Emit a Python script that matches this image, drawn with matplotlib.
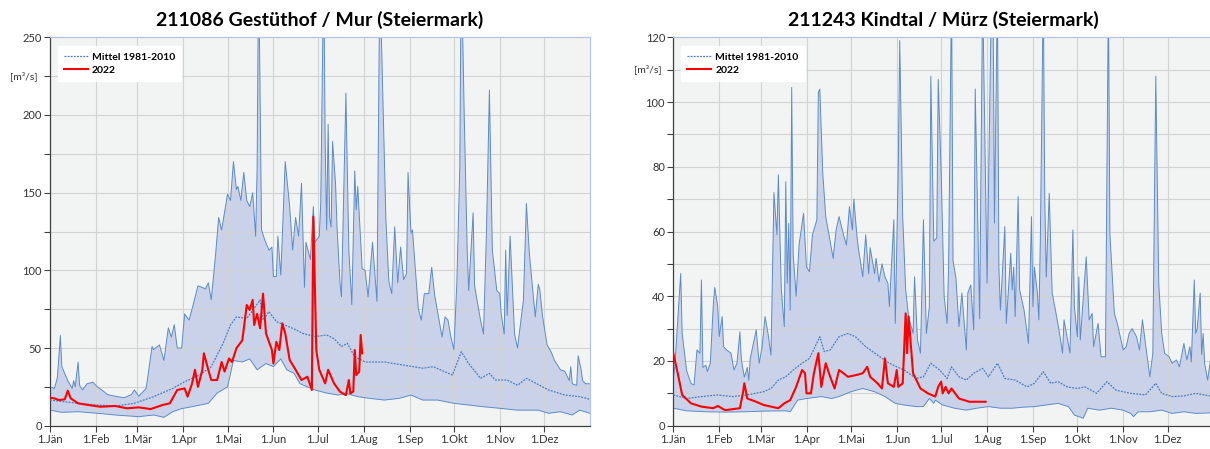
import matplotlib
matplotlib.use('Agg')
import matplotlib.pyplot as plt
from matplotlib.ticker import MultipleLocator

plt.rcParams['font.family'] = ['Lato', 'DejaVu Sans']

month_days = [0, 31, 59, 90, 120, 151, 181, 212, 243, 273, 304, 334]
month_labels = ['1.Jän', '1.Feb', '1.Mär', '1.Apr', '1.Mai', '1.Jun',
                '1.Jul', '1.Aug', '1.Sep', '1.Okt', '1.Nov', '1.Dez']

# --- 211086 Gestüthof / Mur ---
mur_max_d = [0, 3, 5, 7, 8, 12, 15, 16, 17, 19, 20, 22, 25, 29, 32, 35, 39, 44, 50, 55, 57, 60, 65, 69, 70, 74,
             77, 80, 82, 84, 86, 89, 91, 94, 96, 100, 103, 105, 107, 109, 112, 114, 116, 120, 122, 124, 126, 127,
             129, 131, 133, 135, 137, 139, 140, 141, 143, 145, 148, 150, 151, 153, 154, 156, 159, 162, 164, 166,
             168, 170, 172, 173, 176, 178, 179, 182, 183, 185, 186, 187, 188, 189, 190, 191, 193, 194, 196, 197,
             200, 202, 204, 206, 207, 208, 211, 213, 215, 218, 221, 223, 224, 227, 229, 231, 233, 235, 237, 239,
             241, 242, 244, 245, 247, 249, 251, 253, 256, 258, 260, 263, 265, 267, 269, 271, 273, 275, 277, 278,
             280, 282, 283, 286, 287, 291, 293, 295, 297, 299, 302, 304, 305, 307, 308, 309, 311, 314, 316, 320,
             322, 324, 328, 330, 331, 333, 336, 339, 341, 345, 348, 351, 352, 353, 356, 357, 359, 360, 362, 365]
mur_max_q = [25, 24, 31, 58, 38, 29, 24, 29, 25, 41, 26, 23, 27, 28, 25, 23, 20, 19, 18, 20, 23, 19, 24, 51, 49, 52,
             42, 63, 57, 65, 50, 50, 72, 68, 75, 90, 89, 88, 92, 81, 111, 134, 126, 149, 145, 170, 152, 154,
             145, 163, 145, 141, 150, 122, 166, 300, 126, 120, 113, 115, 96, 96, 122, 97, 170, 141, 113, 134,
             122, 156, 89, 118, 107, 141, 118, 122, 143, 300, 182, 126, 194, 134, 128, 183, 156, 128, 92, 83,
             214, 113, 78, 164, 139, 154, 101, 100, 83, 118, 80, 300, 250, 134, 93, 85, 128, 92, 115, 94,
             98, 163, 124, 126, 100, 75, 68, 85, 85, 102, 84, 68, 57, 70, 68, 57, 49, 92, 167, 300,
             199, 113, 87, 137, 90, 68, 59, 124, 216, 113, 87, 85, 72, 59, 113, 71, 122, 59, 50, 81,
             143, 111, 70, 91, 88, 70, 52, 47, 42, 36, 35, 29, 38, 27, 26, 45, 36, 29, 27, 27]
mur_min_d = [0, 8, 19, 32, 44, 60, 70, 77, 83, 89, 96, 107, 113, 120, 124, 130, 135, 140, 146, 151, 156, 160,
             165, 169, 174, 179, 187, 195, 200, 208, 216, 226, 236, 244, 252, 262, 273, 283, 293, 304, 316,
             330, 337, 345, 353, 358, 365]
mur_min_q = [10, 8.6, 9, 8, 6.9, 5.8, 6.9, 5.4, 9, 11, 12.2, 14.4, 21, 25, 42, 41, 43, 36, 40, 38, 43, 36,
             33.7, 27, 25, 23, 21, 19.7, 20.8, 18.7, 17.6, 16.5, 17.6, 19.7, 16.5, 16.5, 14.4, 13.3, 12.2, 11.2,
             10, 10, 8, 9, 6.9, 10, 8]
mur_mean_d = [0, 19, 32, 44, 57, 70, 83, 91, 101, 109, 117, 122, 126, 133, 138, 142, 144, 148, 153, 164, 171,
              179, 187, 192, 197, 201, 206, 213, 226, 239, 252, 259, 272, 278, 283, 291, 297, 301, 309, 316,
              322, 329, 337, 348, 358, 365]
mur_mean_q = [16.5, 14.4, 13.3, 12.7, 14.4, 18.7, 24, 28.3, 32.6, 38, 53, 64.8, 70, 69, 75.5, 81, 68, 73.4, 67,
              62.7, 59.4, 57.3, 58.4, 56, 51, 53, 44.4, 41, 41, 39, 37, 38, 32.6, 47.6, 40, 30.5, 33.7, 29.4,
              29.4, 26, 30.5, 27, 23, 19.7, 18.7, 17]
mur_2022_d = [0, 3, 6, 10, 12, 14, 19, 26, 34, 44, 52, 60, 68, 76, 81, 86, 91, 93, 96, 98, 100, 103, 104, 107,
              109, 113, 116, 118, 121, 123, 126, 130, 133, 135, 137, 138, 140, 142, 144, 146, 150, 151, 153,
              155, 157, 159, 162, 166, 170, 174, 177, 178, 180, 182, 186, 188, 192, 196, 200, 202, 203, 205,
              206, 207, 209, 210, 211]
mur_2022_q = [18, 17.6, 16.5, 17, 22.5, 17.6, 14.4, 13.3, 12.2, 12.7, 11.2, 11.8, 10.7, 13.3, 14.4, 23, 24,
              18.7, 27, 36, 25, 36, 46.6, 36, 29.4, 29.4, 41, 34.8, 43.3, 41, 49.8, 55, 77.7, 74.5, 81, 64.8,
              72, 62.7, 85, 59.4, 48.7, 40, 54, 48.7, 65.9, 59.4, 42.3, 36, 29.4, 31.5, 23, 134.5, 48.7, 36,
              27.2, 36, 27.2, 21.9, 19.7, 29.4, 20.8, 22, 48.7, 32.6, 34.8, 58.4, 46.6]

# --- 211243 Kindtal / Mürz ---
kin_max_d = [0, 1, 5, 6, 9, 12, 14, 16, 18, 19, 20, 22, 23, 25, 27, 28, 30, 31, 33, 34, 36, 39, 41, 43, 45, 46,
             48, 50, 51, 52, 56, 58, 60, 62, 64, 66, 68, 70, 71, 73, 75, 76, 77, 78, 79, 80, 81, 83, 85, 88,
             90, 92, 94, 97, 98, 99, 101, 103, 106, 108, 110, 112, 115, 117, 119, 121, 122, 124, 125, 128, 130,
             132, 133, 136, 137, 139, 141, 143, 145, 146, 149, 150, 152, 153, 155, 157, 159, 162, 163, 165,
             167, 169, 171, 173, 174, 176, 178, 179, 181, 183, 185, 186, 188, 189, 191, 193, 195, 198, 199,
             201, 203, 204, 207, 209, 212, 215, 216, 217, 219, 220, 221, 224, 225, 228, 229, 230, 231, 233,
             234, 237, 240, 242, 243, 244, 246, 247, 248, 250, 251, 252, 254, 256, 259, 261, 263, 264, 266,
             268, 270, 271, 273, 274, 275, 279, 281, 283, 284, 287, 289, 292, 294, 295, 298, 300, 304, 306,
             308, 310, 313, 315, 317, 319, 322, 324, 326, 328, 330, 332, 335, 337, 340, 342, 345, 347, 349,
             350, 352, 353, 354, 356, 357, 358, 359, 361, 363, 365]
kin_max_q = [15, 18, 47, 28.5, 17, 13, 12.6, 23.4, 22.4, 45, 18, 18.7, 16.7, 19.3, 37, 42.7, 37, 27.5, 33.7,
             24.4, 23.4, 22.4, 17.2, 19.3, 29, 20.3, 15, 18, 14, 20.8, 29.6, 19.3, 24.4, 33.7, 28.5, 21.8, 72,
             59, 77.5, 42, 30.6, 75.4, 44, 62.5, 35.7, 104.5, 53, 40, 56, 65.6, 49, 47.6, 59, 63.6, 103, 104,
             78, 64.6, 57, 51.7, 60.5, 64.6, 59, 55.8, 67.7, 60.5, 70, 59, 55, 46, 59, 47, 55, 47, 51.7, 44.5,
             50, 46, 44, 36.8, 63.6, 31.6, 80, 119, 64.6, 42, 33.7, 28.5, 46, 26.5, 22.4, 63.6, 28.5, 36.8,
             108, 57, 58, 107, 78, 40, 31.6, 49, 135, 51, 45.5, 30.6, 41, 23.4, 41, 43.5, 29.6, 104, 33, 135,
             44, 135, 135, 62.6, 135, 49, 35.7, 61.5, 31.6, 53.3, 42, 49, 33.7, 70.8, 42, 35.7, 25.4, 64.6,
             36.8, 49, 41, 32.7, 57.4, 135, 69.7, 46, 71.8, 41, 33.7, 28.5, 22.4, 32.7, 27.5, 22.4, 60.5,
             36.8, 27.5, 46, 26.5, 52.2, 32.7, 34.7, 24.4, 31.6, 21.3, 21.3, 135, 59.4, 34.7, 31.6, 23.4,
             24.4, 28.5, 30, 27.5, 23.4, 32.7, 25.4, 15.1, 22.4, 108, 44, 28.5, 22.4, 21.3, 19.3, 20.3, 18.2,
             25.4, 20.3, 24.4, 19.7, 45, 28.5, 30, 41, 22, 28.5, 19.3, 14.1, 20.3, 17]
kin_min_d = [0, 9, 22, 35, 48, 61, 76, 79, 84, 90, 100, 107, 112, 120, 128, 136, 143, 150, 156, 164, 169, 173,
             176, 177, 182, 190, 198, 205, 213, 221, 229, 236, 244, 252, 260, 267, 271, 277, 280, 288, 296,
             304, 309, 311, 314, 322, 330, 337, 345, 353, 365]
kin_min_q = [5.4, 4.6, 4.3, 4.2, 4.3, 4.5, 4.6, 4.3, 7.9, 8.4, 9, 8.4, 9, 10.5, 11.5, 10.5, 9, 6.9, 6.4, 5.9,
             5.9, 8.4, 6.9, 7.9, 6.4, 5.4, 4.8, 5.4, 5.9, 5.4, 5.4, 5.7, 5.9, 6.4, 6.9, 5.9, 3.3, 2.3, 5.4,
             4.8, 5.4, 4.8, 3.8, 2.8, 4.3, 4.3, 4.8, 3.8, 4.3, 3.8, 4]
kin_mean_d = [0, 9, 19, 30, 40, 50, 61, 66, 71, 76, 81, 87, 92, 99, 102, 106, 112, 118, 123, 130, 138, 146,
              151, 156, 164, 169, 174, 180, 185, 188, 193, 198, 203, 209, 213, 219, 224, 231, 239, 244, 250,
              255, 260, 266, 273, 278, 286, 293, 299, 309, 319, 326, 330, 337, 345, 353, 365]
kin_mean_q = [9.5, 8.4, 9, 9.5, 9, 9.5, 10.5, 11.5, 14.1, 15.1, 17.2, 19.3, 20.8, 27.5, 22.9, 23.4, 27.5, 28.5,
              27.5, 24.4, 21.8, 19.3, 18.2, 17.2, 14.6, 15.1, 19.3, 17.2, 14.6, 18.2, 15.1, 14.1, 16.2, 17.7,
              15.1, 19.3, 14.6, 14.1, 12, 13.1, 16.7, 13.1, 13.6, 12, 11.5, 12, 10, 13.6, 11, 10, 9.5, 13.1,
              10, 9, 9.2, 10, 9]
kin_2022_d = [0, 3, 6, 12, 19, 27, 30, 35, 45, 47, 48, 50, 56, 61, 71, 75, 79, 83, 87, 89, 90, 93, 95, 98, 100,
              103, 106, 109, 112, 115, 118, 124, 128, 131, 133, 138, 141, 143, 145, 149, 151, 152, 155, 157,
              158, 159, 162, 167, 172, 177, 179, 181, 182, 184, 186, 188, 193, 200, 206, 211]
kin_2022_q = [22.4, 16.2, 9.5, 6.9, 5.9, 5.4, 6.1, 4.8, 5.4, 10, 13.1, 8.4, 7.4, 6.4, 5.4, 6.9, 7.9, 12, 17.2,
              16.2, 10, 10, 16.2, 22.4, 12, 19.3, 15.1, 11.5, 17.2, 16.2, 15.1, 15.7, 16.2, 18.2, 15.1, 13.1,
              11.5, 20.8, 13.1, 12, 17.2, 12, 13.1, 34.7, 22.4, 33.7, 16.2, 11.5, 10, 9, 12, 13.6, 10, 12, 10,
              11.5, 8.4, 7.4, 7.4, 7.4]

band_fill = '#c9d2e8'
band_edge = '#5b8bc9'


def draw(ax, max_d, max_q, min_d, min_q, mean_d, mean_q, d22, q22, ymax, major, minor, title):
    ax.set_facecolor('#f2f4f3')
    ax.fill(max_d + min_d[::-1], max_q + min_q[::-1], color=band_fill, lw=0, zorder=1)
    ax.plot(max_d, max_q, color=band_edge, lw=0.7, zorder=2)
    ax.plot(min_d, min_q, color=band_edge, lw=0.7, zorder=2)
    ax.plot(mean_d, mean_q, color='#4a7cc0', lw=0.9, ls=(0, (1.5, 1)), zorder=3, label='Mittel 1981-2010')
    ax.plot(d22, q22, color='#ff0000', lw=1.5, zorder=4, label='2022')

    ax.set_xlim(0, 365)
    ax.set_ylim(0, ymax)
    ax.set_xticks(month_days)
    ax.set_xticklabels(month_labels)
    ax.yaxis.set_major_locator(MultipleLocator(major))
    ax.yaxis.set_minor_locator(MultipleLocator(minor))
    ax.set_axisbelow('line')
    ax.grid(True, which='both', color='#d2d2d2', lw=0.8)
    ax.tick_params(which='both', direction='out', length=4, width=0.8, color='#404040',
                   labelsize=8, labelcolor='#333333', pad=2)
    for s in ['left', 'bottom']:
        ax.spines[s].set_color('#404040')
        ax.spines[s].set_linewidth(0.9)
    for s in ['top', 'right']:
        ax.spines[s].set_color('#b4c6e7')
        ax.spines[s].set_linewidth(0.9)

    ax.text(-0.022, ymax - minor, '[m³/s]', transform=ax.get_yaxis_transform(),
            ha='right', va='center', fontsize=7.5, color='#333333')
    leg = ax.legend(loc='upper left', bbox_to_anchor=(0.014, 0.977), borderaxespad=0,
                    prop={'weight': 'bold', 'size': 7.5}, frameon=True, fancybox=False,
                    handlelength=2.3, handletextpad=0.4, labelspacing=0.35, borderpad=0.6)
    leg.get_frame().set_facecolor('white')
    leg.get_frame().set_edgecolor('white')
    leg.get_frame().set_alpha(1)

    pos = ax.get_position()
    fig.text((pos.x0 + pos.x1) / 2, 1 - 26 / 449, title, ha='center', va='baseline',
             fontsize=14, fontweight='bold', color='black')


fig = plt.figure(figsize=(12.1, 4.49), dpi=100)
ax1 = fig.add_axes([50 / 1210, 23.3 / 449, 540 / 1210, 388.4 / 449])
ax2 = fig.add_axes([673.3 / 1210, 23.3 / 449, 540.2 / 1210, 388.4 / 449])

draw(ax1, mur_max_d, mur_max_q, mur_min_d, mur_min_q, mur_mean_d, mur_mean_q,
     mur_2022_d, mur_2022_q, 250, 50, 25, '211086 Gestüthof / Mur (Steiermark)')
draw(ax2, kin_max_d, kin_max_q, kin_min_d, kin_min_q, kin_mean_d, kin_mean_q,
     kin_2022_d, kin_2022_q, 120, 20, 10, '211243 Kindtal / Mürz (Steiermark)')

fig.savefig('out.png', dpi=100)
